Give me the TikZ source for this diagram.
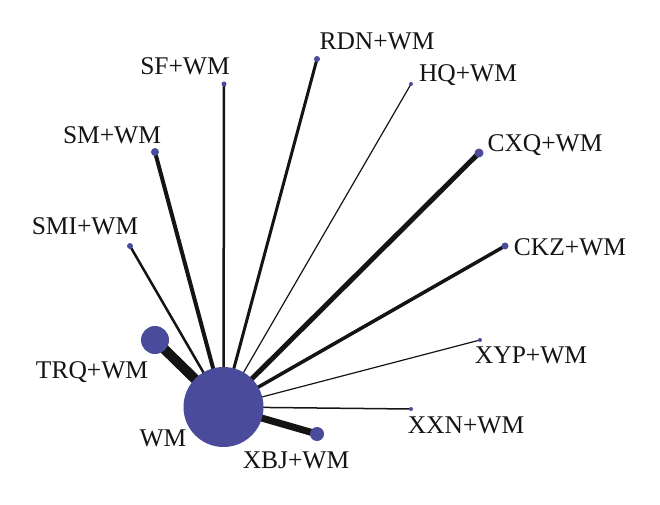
\documentclass[tikz,border=0pt]{standalone}
\usepackage{fontspec}
\setmainfont{Liberation Serif}
\usepackage{tikz}
\usetikzlibrary{backgrounds}
\definecolor{netblue}{HTML}{4B4B9B}
\definecolor{netline}{HTML}{141414}

\begin{document}
\begin{tikzpicture}[
  x=1pt, y=-1pt,
  dot/.style={circle, fill=netblue, inner sep=0pt, minimum size=#1},
  tag/.style={anchor=base, inner sep=0pt, text=netline, font=\fontsize{25.5}{30}\selectfont},
  link/.style={draw=netline, line width=#1}
]
\useasboundingbox (0,0) rectangle (660,505);
% treatment nodes
\node[dot=80pt] (wm) at (223.5,407) {};
\node[dot=28pt] (trq) at (155,340) {};
\node[dot=14pt] (xbj) at (317,434) {};
\node[dot=5pt] (sf) at (224,84) {};
\node[dot=6pt] (rdn) at (317,59) {};
\node[dot=4pt] (hq) at (411,84) {};
\node[dot=8pt] (sm) at (155,152) {};
\node[dot=6pt] (smi) at (130,246) {};
\node[dot=9pt] (cxq) at (479,153) {};
\node[dot=7pt] (ckz) at (505,246) {};
\node[dot=4pt] (xyp) at (480,340) {};
\node[dot=4pt] (xxn) at (411,409) {};
% labels
\node[tag] (wmlab) at (163,446) {WM};
\node[tag] (trqlab) at (92,378) {TRQ+WM};
\node[tag] (xbjlab) at (296,468) {XBJ+WM};
\node[tag] (sflab) at (185,75) {SF+WM};
\node[tag] (rdnlab) at (377,50) {RDN+WM};
\node[tag] (hqlab) at (468,82) {HQ+WM};
\node[tag] (smlab) at (112,143) {SM+WM};
\node[tag] (smilab) at (85,234) {SMI+WM};
\node[tag] (cxqlab) at (545,151) {CXQ+WM};
\node[tag] (ckzlab) at (570,255) {CKZ+WM};
\node[tag] (xyplab) at (531,363) {XYP+WM};
\node[tag] (xxnlab) at (466,433) {XXN+WM};
% comparisons
\begin{scope}[on background layer]
\draw[link=10pt] (wm.center) -- (trq.center);
\draw[link=7pt] (wm.center) -- (xbj.center);
\draw[link=2.5pt] (wm.center) -- (sf.center);
\draw[link=3pt] (wm.center) -- (rdn.center);
\draw[link=1.2pt] (wm.center) -- (hq.center);
\draw[link=4pt] (wm.center) -- (sm.center);
\draw[link=2.5pt] (wm.center) -- (smi.center);
\draw[link=5pt] (wm.center) -- (cxq.center);
\draw[link=3.5pt] (wm.center) -- (ckz.center);
\draw[link=1.2pt] (wm.center) -- (xyp.center);
\draw[link=1.5pt] (wm.center) -- (xxn.center);
\end{scope}
\end{tikzpicture}
\end{document}
